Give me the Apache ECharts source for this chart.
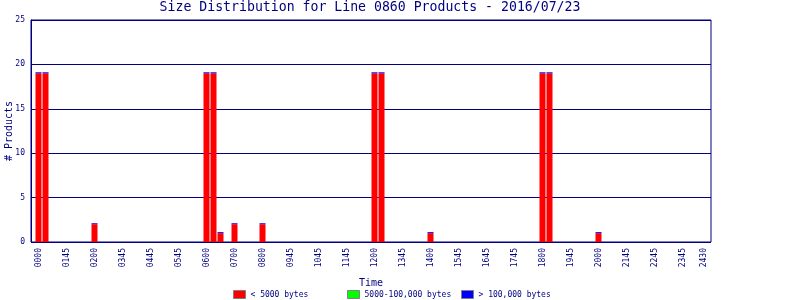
<!DOCTYPE html>
<html>
<head>
<meta charset="utf-8">
<script src="https://cdn.jsdelivr.net/npm/echarts@6/dist/echarts.min.js"></script>
<style>html,body{margin:0;padding:0;background:#fff}#c{width:800px;height:300px}</style>
</head>
<body>
<div id="c"></div>
<script>
// ---- data ----
const titleText = 'Size Distribution for Line 0860 Products - 2016/07/23';
const seriesNames = ['< 5000 bytes', '5000-100,000 bytes', '> 100,000 bytes'];
const seriesColors = ['#ff0000', '#00ff00', '#0000ff'];
// slots are 15-minute intervals, 96 in a day
const slotCount = 96;
const tickSlots = [0,4,8,12,16,20,24,28,32,36,40,44,48,52,56,60,64,68,72,76,80,84,88,92,95];
const tickLabels = ['0000','0145','0200','0345','0445','0545','0600','0700','0800','0945','1045','1145','1200','1345','1400','1545','1645','1745','1800','1945','2000','2145','2245','2345','2430'];
const barSlots   = [0, 1, 8, 24, 25, 26, 28, 32, 48, 49, 56, 72, 73, 80];
const smallCount = [19,19, 2, 19, 19,  1,  2,  2, 19, 19,  1, 19, 19,  1];
const midCount   = [0, 0, 0,  0,  0,  0,  0,  0,  0,  0,  0,  0,  0,  0];
const largeCount = [0, 0, 0,  0,  0,  0,  0,  0,  0,  0,  0,  0,  0,  0];
const yMax = 25, yStep = 5;

// ---- build ----
const categories = [];
for (let i = 0; i < slotCount; i++) {
  const m = i * 15;
  categories.push(String(Math.floor(m / 60)).padStart(2, '0') + String(m % 60).padStart(2, '0'));
}
const labelMap = {};
tickSlots.forEach((s, k) => { labelMap[s] = tickLabels[k]; });
function expand(vals) {
  const arr = new Array(slotCount).fill(null);
  barSlots.forEach((s, k) => { arr[s] = vals[k]; });
  return arr;
}
const NAVY = '#000080';
const FONT = '"DejaVu Sans Mono", "Liberation Mono", monospace';

const chart = echarts.init(document.getElementById('c'), null, {renderer: 'canvas'});
chart.setOption({
  animation: false,
  backgroundColor: '#ffffff',
  title: {
    text: titleText, left: 370, top: 1, padding: 0, textAlign: 'center',
    textStyle: {fontFamily: FONT, fontSize: 13.2, fontWeight: 'normal', color: NAVY}
  },
  legend: seriesNames.map((n, i) => ({
    data: [n], left: [233, 347, 461][i], top: 290, padding: 0,
    itemWidth: 12, itemHeight: 8, icon: 'rect',
    itemStyle: {borderColor: '#808080', borderWidth: 1},
    textStyle: {fontFamily: FONT, fontSize: 8, color: NAVY, padding: [0, 0, 0, 0]},
    selectedMode: false
  })),
  grid: [
    {left: 31, top: 20, width: 680, height: 222, show: true, borderColor: NAVY, borderWidth: 1,
     backgroundColor: 'transparent', containLabel: false, outerBoundsMode: 'none'},
    {left: 35, top: 20, width: 672, height: 222, containLabel: false, outerBoundsMode: 'none'}
  ],
  xAxis: [
    {gridIndex: 0, type: 'value', min: 0, max: 1, show: false},
    {
      gridIndex: 1, type: 'category', data: categories, boundaryGap: true,
      axisLine: {show: false}, axisTick: {show: false},
      axisLabel: {
        interval: (i) => labelMap[i] !== undefined,
        formatter: (v, i) => labelMap[i] || '',
        rotate: 90, margin: 6, fontFamily: FONT, fontSize: 8, color: NAVY
      },
      name: 'Time', nameLocation: 'middle', nameGap: 36, nameMoveOverlap: false,
      nameTextStyle: {fontFamily: FONT, fontSize: 10, color: NAVY}
    }
  ],
  yAxis: [
    {
      gridIndex: 0, type: 'value', min: 0, max: yMax, interval: yStep,
      axisLine: {show: true, lineStyle: {color: NAVY, width: 1}},
      axisTick: {show: false},
      splitLine: {show: true, lineStyle: {color: NAVY, width: 1}},
      axisLabel: {margin: 6, fontFamily: FONT, fontSize: 8, color: NAVY},
      name: '# Products', nameLocation: 'middle', nameGap: 17, nameRotate: 90, nameMoveOverlap: false,
      nameTextStyle: {fontFamily: FONT, fontSize: 10, color: NAVY}
    },
    {gridIndex: 1, type: 'value', min: 0, max: yMax, show: false, splitLine: {show: false}}
  ],
  series: [
    {name: seriesNames[0], type: 'bar', xAxisIndex: 1, yAxisIndex: 1, stack: 's', barWidth: 6,
     itemStyle: {color: seriesColors[0]}, data: expand(smallCount)},
    {name: seriesNames[1], type: 'bar', xAxisIndex: 1, yAxisIndex: 1, stack: 's', barWidth: 6,
     itemStyle: {color: seriesColors[1]}, data: expand(midCount)},
    {name: seriesNames[2], type: 'bar', xAxisIndex: 1, yAxisIndex: 1, stack: 's', barWidth: 6, barMinHeight: 1,
     itemStyle: {color: seriesColors[2]}, data: expand(largeCount)}
  ]
});
</script>
</body>
</html>
